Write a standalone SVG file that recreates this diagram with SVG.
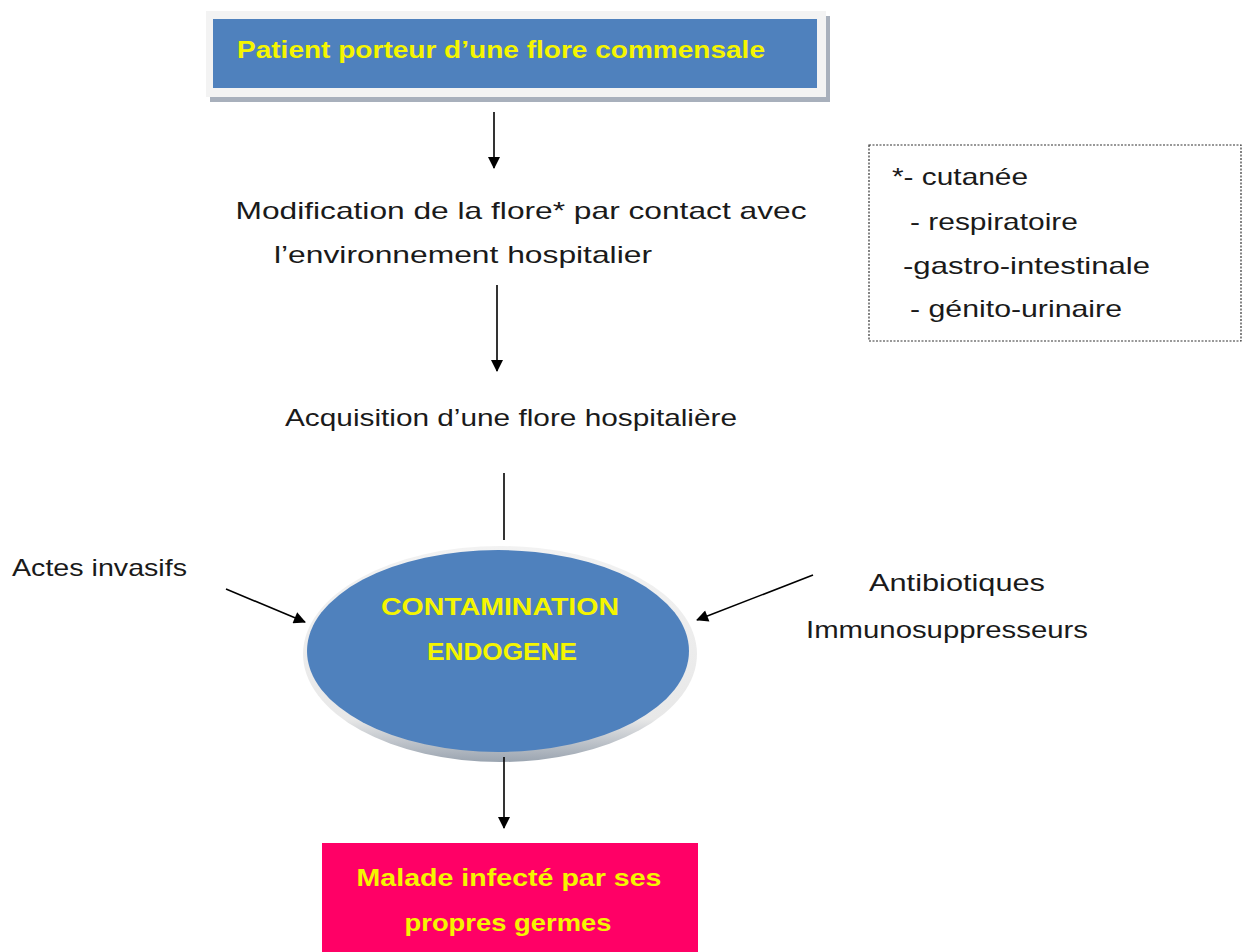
<svg xmlns="http://www.w3.org/2000/svg" width="1249" height="952" viewBox="0 0 1249 952">
<defs>
<style>
.t{font-family:"Liberation Sans",Arial,sans-serif;font-size:24px;fill:#1a1a1a}
.y{font-family:"Liberation Sans",Arial,sans-serif;font-size:24px;font-weight:bold;fill:#f5f500}
.c{stroke:#000;stroke-width:1.6;fill:none}
</style>
<marker id="ah" viewBox="0 0 12 12" refX="11" refY="6" markerWidth="13" markerHeight="12" markerUnits="userSpaceOnUse" orient="auto">
<path d="M0,0 L12,6 L0,12 z" fill="#000"/>
</marker>
<linearGradient id="rim" x1="0" y1="0" x2="0" y2="1">
<stop offset="0" stop-color="#f2f2f2"/>
<stop offset="0.8" stop-color="#e8e8e8"/>
<stop offset="1" stop-color="#9aa4b0"/>
</linearGradient>
</defs>
<rect width="1249" height="952" fill="#fff"/>
<g id="n-patient">
<rect x="210" y="16" width="620" height="86" fill="#a8b0bc"/>
<rect x="206" y="11" width="620" height="86" fill="#f3f3f3"/>
<rect x="213" y="19" width="604" height="69" fill="#4f81bd"/>
<text class="y" x="501" y="58" text-anchor="middle" textLength="528" lengthAdjust="spacingAndGlyphs">Patient porteur d’une flore commensale</text>
</g>
<g id="n-modification">
<text class="t" x="521" y="219" text-anchor="middle" textLength="571" lengthAdjust="spacingAndGlyphs">Modification de la flore* par contact avec</text>
<text class="t" x="463" y="263" text-anchor="middle" textLength="378" lengthAdjust="spacingAndGlyphs">l’environnement hospitalier</text>
</g>
<g id="n-legend">
<rect x="869" y="145" width="372" height="196" fill="none" stroke="#333" stroke-width="1.2" stroke-dasharray="2,1.5"/>
<text class="t" x="892" y="185" textLength="136" lengthAdjust="spacingAndGlyphs">*- cutanée</text>
<text class="t" x="910" y="230" textLength="168" lengthAdjust="spacingAndGlyphs">- respiratoire</text>
<text class="t" x="903" y="274" textLength="247" lengthAdjust="spacingAndGlyphs">-gastro-intestinale</text>
<text class="t" x="910" y="317" textLength="212" lengthAdjust="spacingAndGlyphs">- génito-urinaire</text>
</g>
<g id="n-acquisition">
<text class="t" x="511" y="426" text-anchor="middle" textLength="452" lengthAdjust="spacingAndGlyphs">Acquisition d’une flore hospitalière</text>
</g>
<g id="n-actes">
<text class="t" x="12" y="576" textLength="175" lengthAdjust="spacingAndGlyphs">Actes invasifs</text>
</g>
<g id="n-antibio">
<text class="t" x="957" y="591" text-anchor="middle" textLength="176" lengthAdjust="spacingAndGlyphs">Antibiotiques</text>
<text class="t" x="947" y="638" text-anchor="middle" textLength="282" lengthAdjust="spacingAndGlyphs">Immunosuppresseurs</text>
</g>
<g id="n-contamination">
<ellipse cx="500" cy="654" rx="197" ry="108" fill="url(#rim)"/>
<ellipse cx="498" cy="651" rx="191" ry="101" fill="#4f81bd"/>
<text class="y" x="500" y="615" text-anchor="middle" textLength="238" lengthAdjust="spacingAndGlyphs">CONTAMINATION</text>
<text class="y" x="502" y="660" text-anchor="middle" textLength="150" lengthAdjust="spacingAndGlyphs">ENDOGENE</text>
</g>
<g id="n-malade">
<rect x="322" y="843" width="376" height="112" fill="#ff0066"/>
<text class="y" x="509" y="886" text-anchor="middle" textLength="305" lengthAdjust="spacingAndGlyphs">Malade infecté par ses</text>
<text class="y" x="508" y="931" text-anchor="middle" textLength="207" lengthAdjust="spacingAndGlyphs">propres germes</text>
</g>
<g id="connectors">
<line class="c" x1="494" y1="112" x2="494" y2="168" marker-end="url(#ah)"/>
<line class="c" x1="497" y1="285" x2="497" y2="371" marker-end="url(#ah)"/>
<line class="c" x1="504" y1="473" x2="504" y2="540"/>
<line class="c" x1="226" y1="589" x2="305" y2="622" marker-end="url(#ah)"/>
<line class="c" x1="813" y1="575" x2="697" y2="620" marker-end="url(#ah)"/>
<line class="c" x1="504" y1="757" x2="504" y2="828" marker-end="url(#ah)"/>
</g>
</svg>
